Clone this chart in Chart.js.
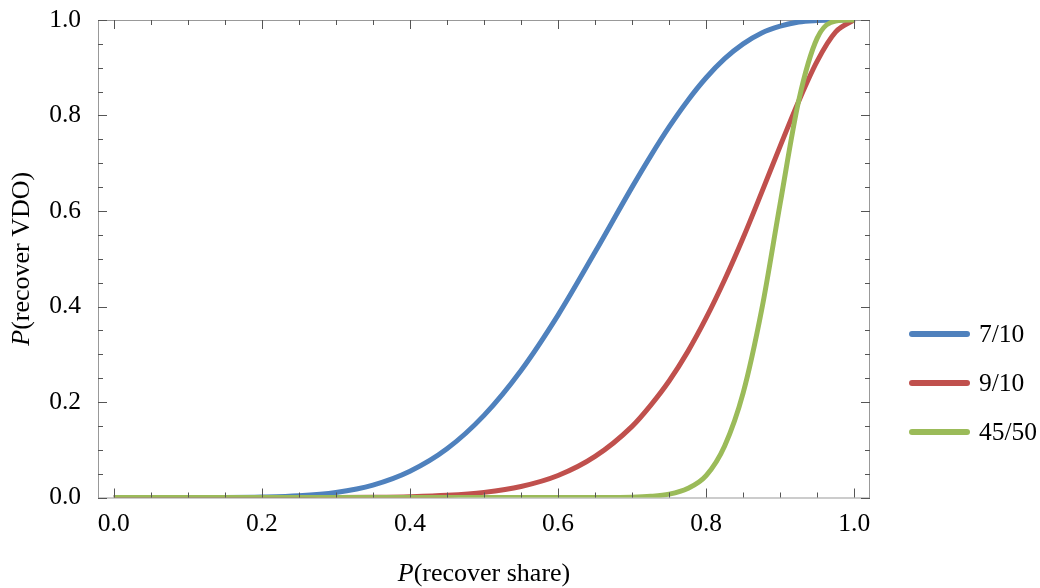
<!DOCTYPE html>
<html>
<head>
<meta charset="utf-8">
<style>
  html, body { margin: 0; padding: 0; background: #fff; }
  #wrap { width: 1040px; height: 588px; }
</style>
<script src="https://cdn.jsdelivr.net/npm/chart.js@4/dist/chart.umd.min.js"></script>
</head>
<body>
<div id="wrap"><canvas id="chart" width="1040" height="588"></canvas></div>
<script>
// P(recover share) sample points
const shareValues = [0, 0.05, 0.1, 0.15, 0.2, 0.25, 0.3, 0.35, 0.4, 0.45, 0.5, 0.55, 0.6, 0.65,
    0.7, 0.725, 0.75, 0.775, 0.8, 0.825, 0.85, 0.875, 0.9, 0.925, 0.95, 0.975, 1];

// P(recover VDO)
const vdo7of10 = [0, 0, 0, 0.0001, 0.0009, 0.0035, 0.0106, 0.026, 0.055, 0.102, 0.172, 0.266, 0.382, 0.514,
    0.650, 0.715, 0.776, 0.831, 0.879, 0.919, 0.950, 0.973, 0.987, 0.996, 0.999, 1, 1];
const vdo9of10 = [0, 0, 0, 0, 0, 0, 0, 0.0005, 0.0017, 0.0045, 0.0107, 0.023, 0.046, 0.086,
    0.149, 0.193, 0.244, 0.305, 0.376, 0.456, 0.544, 0.639, 0.736, 0.830, 0.914, 0.975, 1];
const vdo45of50 = [0, 0, 0, 0, 0, 0, 0, 0, 0, 0, 0, 0, 0, 0.0001,
    0.0007, 0.0024, 0.007, 0.019, 0.046, 0.108, 0.219, 0.393, 0.616, 0.831, 0.962, 0.998, 1];

const seriesLabels = ['7/10', '9/10', '45/50'];
const seriesColors = ['#4f81bd', '#c0504d', '#9bbb59'];

const xTicks = [0, 0.2, 0.4, 0.6, 0.8, 1.0];
const yTicks = [0, 0.2, 0.4, 0.6, 0.8, 1.0];
const minorStep = 0.05;

const serif = '"Liberation Serif", "DejaVu Serif", serif';
const toPoints = (ys) => shareValues.map((x, i) => ({ x, y: ys[i] }));

// frame with inward ticks, Mathematica style
const framePlugin = {
    id: 'frame',
    beforeDatasetsDraw(chart) {
        const { ctx, chartArea: a } = chart;
        ctx.save();
        ctx.strokeStyle = '#999';
        ctx.lineWidth = 1;
        ctx.strokeRect(a.left + 0.5, a.top + 0.5, a.right - a.left - 1, a.bottom - a.top);
        ctx.restore();
    },
    afterDatasetsDraw(chart) {
        const { ctx, chartArea: a, scales } = chart;
        ctx.save();
        ctx.strokeStyle = '#555';
        ctx.lineWidth = 1;
        ctx.beginPath();
        for (let v = 0; v <= 1.0001; v += minorStep) {
            const major = Math.abs(v * 5 - Math.round(v * 5)) < 1e-6;
            const len = major ? 9 : 5;
            const px = Math.round(scales.x.getPixelForValue(v)) + 0.5;
            ctx.moveTo(px, a.bottom); ctx.lineTo(px, a.bottom - len);
            ctx.moveTo(px, a.top); ctx.lineTo(px, a.top + len);
            const py = Math.round(scales.y.getPixelForValue(v)) + 0.5;
            ctx.moveTo(a.left, py); ctx.lineTo(a.left + len, py);
            ctx.moveTo(a.right, py); ctx.lineTo(a.right - len, py);
        }
        ctx.stroke();
        ctx.restore();
    },
    afterDraw(chart) {
        const { ctx, chartArea: a } = chart;
        ctx.save();
        ctx.fillStyle = '#000';
        ctx.textBaseline = 'middle';

        // axis titles: italic P, upright rest
        const drawTitle = (rest, cx, cy, rotate) => {
            ctx.save();
            ctx.translate(cx, cy);
            if (rotate) ctx.rotate(-Math.PI / 2);
            ctx.font = `italic 26px ${serif}`;
            const wP = ctx.measureText('P').width;
            ctx.font = `26px ${serif}`;
            const wR = ctx.measureText(rest).width;
            const x0 = -(wP + wR) / 2;
            ctx.textAlign = 'left';
            ctx.font = `italic 26px ${serif}`;
            ctx.fillText('P', x0, 0);
            ctx.font = `26px ${serif}`;
            ctx.fillText(rest, x0 + wP, 0);
            ctx.restore();
        };
        drawTitle('(recover share)', (a.left + a.right) / 2, 574, false);
        drawTitle('(recover VDO)', 22, (a.top + a.bottom) / 2, true);

        // legend
        const legendY = [334, 383, 432];
        ctx.lineCap = 'round';
        ctx.lineWidth = 6;
        ctx.font = `25.5px ${serif}`;
        ctx.textAlign = 'left';
        seriesLabels.forEach((label, i) => {
            ctx.strokeStyle = seriesColors[i];
            ctx.beginPath();
            ctx.moveTo(912, legendY[i]);
            ctx.lineTo(967, legendY[i]);
            ctx.stroke();
            ctx.fillText(label, 979, legendY[i] + 1);
        });
        ctx.restore();
    }
};

const datasets = [vdo7of10, vdo9of10, vdo45of50].map((ys, i) => ({
    label: seriesLabels[i],
    data: toPoints(ys),
    borderColor: seriesColors[i],
    backgroundColor: seriesColors[i],
    borderWidth: 5,
    pointRadius: 0,
    cubicInterpolationMode: 'monotone',
    order: 2 - i
}));

new Chart(document.getElementById('chart'), {
    type: 'line',
    data: { datasets },
    options: {
        responsive: false,
        animation: false,
        layout: { padding: { top: 20, right: 170, left: 0, bottom: 0 } },
        plugins: { legend: { display: false }, tooltip: { enabled: false } },
        scales: {
            x: {
                type: 'linear',
                min: -0.0213,
                max: 1.0213,
                grid: { display: false },
                border: { display: false },
                afterBuildTicks: (scale) => { scale.ticks = xTicks.map(value => ({ value })); },
                afterFit: (scale) => { scale.height = 90.5; },
                ticks: {
                    padding: 3,
                    color: '#000',
                    font: { family: serif, size: 25.5 },
                    maxRotation: 0,
                    callback: (v) => v.toFixed(1)
                }
            },
            y: {
                type: 'linear',
                min: 0,
                max: 1,
                grid: { display: false },
                border: { display: false },
                afterBuildTicks: (scale) => { scale.ticks = yTicks.map(value => ({ value })); },
                afterFit: (scale) => { scale.width = 98; },
                ticks: {
                    padding: 9,
                    color: '#000',
                    font: { family: serif, size: 25.5, lineHeight: 0.8 },
                    callback: (v) => v.toFixed(1)
                }
            }
        }
    },
    plugins: [framePlugin]
});
</script>
</body>
</html>
